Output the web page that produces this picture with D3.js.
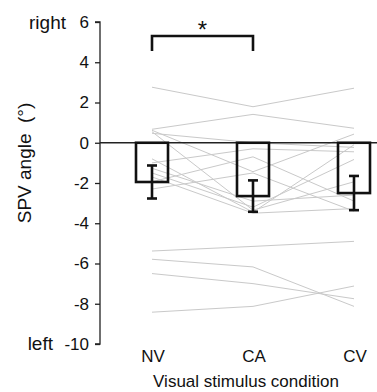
<!DOCTYPE html>
<html><head><meta charset="utf-8">
<script src="https://cdn.jsdelivr.net/npm/d3@7"></script>
<style>body{margin:0;background:#fff}svg{display:block}text{font-family:Arial,"Liberation Sans",sans-serif;fill:#111}</style>
</head><body>
<script>
const conditions = ["NV", "CA", "CV"];
const meanValues = [-1.95, -2.65, -2.5];
const seValues = [0.82, 0.78, 0.85];
const yTicks = [6, 4, 2, 0, -2, -4, -6, -8, -10];
// individual subjects: [NV, CA, CV]
const subjectNV = [2.76, 0.67, 0.62, 0.55, 0.47, -0.8, -1.0, -1.27, -1.5, -1.7, -1.94, -2.3, -5.38, -5.79, -6.5, -8.42];
const subjectCA = [1.79, 1.41, -1.44, -3.35, 0.0, -3.45, -0.3, -2.9, -3.2, -3.5, -0.7, -1.5, -5.15, -6.17, -7.0, -8.13];
const subjectCV = [2.71, 0.72, 0.43, -1.94, -0.23, -0.1, -0.45, -2.6, -0.83, -3.27, -2.9, -3.4, -4.9, -8.13, -7.75, -7.12];
const sigPair = ["NV", "CA"];

const W = 377, H = 392;
const svg = d3.select("body").append("svg").attr("width", W).attr("height", H);

const y = d3.scaleLinear().domain([-10, 6]).range([344, 22]);
const x = d3.scalePoint().domain(conditions).range([152, 354]);
const barW = 32;

// y axis
const yAxis = d3.axisLeft(y).tickValues(yTicks).tickSize(5).tickPadding(6).tickFormat(d => String(d));
const ga = svg.append("g").attr("transform", "translate(100,0)").call(yAxis);
ga.select(".domain").attr("stroke", "#222").attr("stroke-width", 1.3).attr("d", "M-5,22H0V344H-5");
ga.selectAll(".tick line").attr("stroke", "#222").attr("stroke-width", 1.3);
ga.selectAll(".tick text").style("font-size", "17px").attr("fill", "#111").style("font-family", "Arial, 'Liberation Sans', sans-serif");

// side labels
svg.append("text").attr("x", 66).attr("y", 29).attr("text-anchor", "end").style("font-size", "19px").text("right");
svg.append("text").attr("x", 53).attr("y", 350).attr("text-anchor", "end").style("font-size", "19px").text("left");

// y label
svg.append("text").attr("transform", "translate(31,163) rotate(-90)").attr("text-anchor", "middle")
  .style("font-size", "19px").style("white-space", "pre").text("SPV angle  (°)");

// subject lines
const subjects = subjectNV.map((v, i) => [v, subjectCA[i], subjectCV[i]]);
const line = d3.line().x((d, i) => x(conditions[i])).y(d => y(d));
svg.append("g").selectAll("path").data(subjects).join("path")
  .attr("d", line).attr("fill", "none").attr("stroke", "#c9c9c9").attr("stroke-width", 1);

// zero line
svg.append("line").attr("x1", 100).attr("x2", W).attr("y1", y(0)).attr("y2", y(0))
  .attr("stroke", "#222").attr("stroke-width", 1.5);

// bars
svg.append("g").selectAll("rect").data(meanValues).join("rect")
  .attr("x", (d, i) => x(conditions[i]) - barW / 2)
  .attr("y", y(0))
  .attr("width", barW)
  .attr("height", d => y(d) - y(0))
  .attr("fill", "none").attr("stroke", "#111").attr("stroke-width", 2.6);

// error bars
const eg = svg.append("g").attr("stroke", "#111").attr("stroke-width", 2.6);
meanValues.forEach((m, i) => {
  const cx = x(conditions[i]);
  eg.append("line").attr("x1", cx).attr("x2", cx).attr("y1", y(m + seValues[i])).attr("y2", y(m - seValues[i]));
  eg.append("line").attr("x1", cx - 5).attr("x2", cx + 5).attr("y1", y(m + seValues[i])).attr("y2", y(m + seValues[i]));
  eg.append("line").attr("x1", cx - 5).attr("x2", cx + 5).attr("y1", y(m - seValues[i])).attr("y2", y(m - seValues[i]));
});

// significance bracket
const x1 = x(sigPair[0]), x2 = x(sigPair[1]);
svg.append("path").attr("d", `M${x1},51V36H${x2}V51`).attr("fill", "none")
  .attr("stroke", "#111").attr("stroke-width", 2.6);
svg.append("text").attr("x", (x1 + x2) / 2).attr("y", 38).attr("text-anchor", "middle")
  .style("font-size", "24px").attr("fill", "#333").text("*");

// x labels
svg.append("g").selectAll("text").data(conditions).join("text")
  .attr("x", d => x(d) + 1).attr("y", 362).attr("text-anchor", "middle").style("font-size", "17px").text(d => d);
svg.append("text").attr("x", 246).attr("y", 387).attr("text-anchor", "middle").style("font-size", "17px")
  .text("Visual stimulus condition");
</script>
</body></html>
